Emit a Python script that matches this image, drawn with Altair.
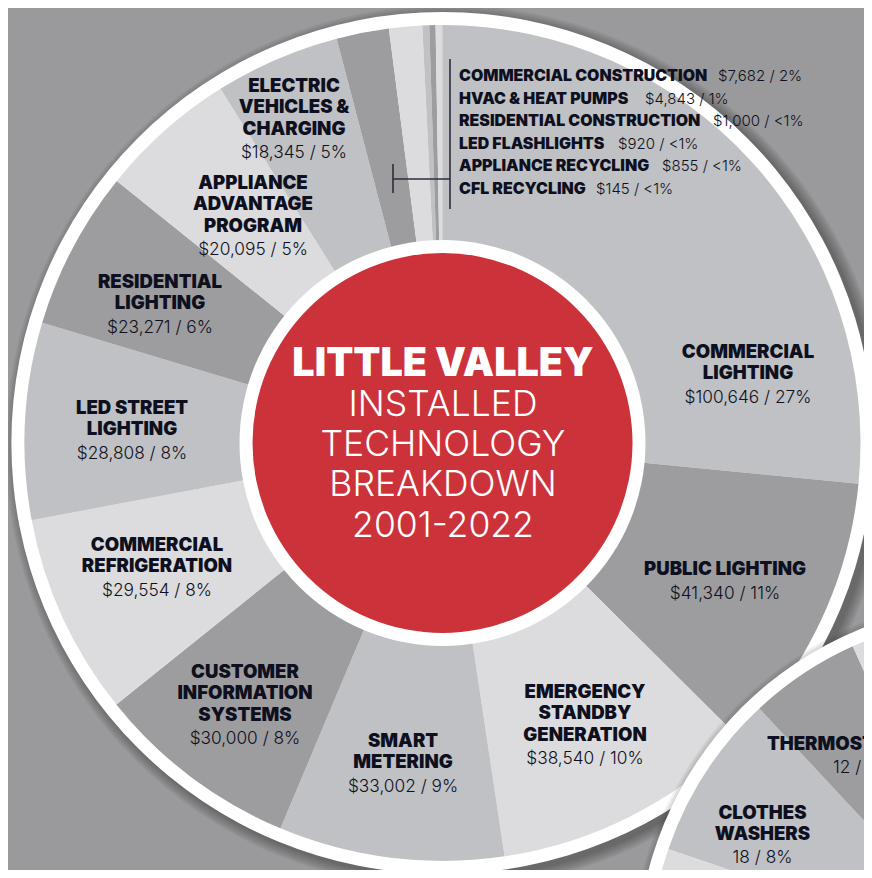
import math
import altair as alt
import pandas as pd

# ---------------- data ----------------
MAIN_NAMES = [
    "COMMERCIAL LIGHTING", "PUBLIC LIGHTING", "EMERGENCY STANDBY GENERATION",
    "SMART METERING", "CUSTOMER INFORMATION SYSTEMS", "COMMERCIAL REFRIGERATION",
    "LED STREET LIGHTING", "RESIDENTIAL LIGHTING", "APPLIANCE ADVANTAGE PROGRAM",
    "ELECTRIC VEHICLES & CHARGING", "COMMERCIAL CONSTRUCTION", "HVAC & HEAT PUMPS",
    "RESIDENTIAL CONSTRUCTION", "LED FLASHLIGHTS", "APPLIANCE RECYCLING", "CFL RECYCLING",
]
MAIN_VALUES = [100646, 41340, 38540, 33002, 30000, 29554, 28808, 23271, 20095,
               18345, 7682, 4843, 1000, 920, 855, 145]

# big labels: name split into lines
MAIN_LABEL_LINES = [
    ["COMMERCIAL", "LIGHTING"], ["PUBLIC LIGHTING"], ["EMERGENCY", "STANDBY", "GENERATION"],
    ["SMART", "METERING"], ["CUSTOMER", "INFORMATION", "SYSTEMS"], ["COMMERCIAL", "REFRIGERATION"],
    ["LED STREET", "LIGHTING"], ["RESIDENTIAL", "LIGHTING"], ["APPLIANCE", "ADVANTAGE", "PROGRAM"],
    ["ELECTRIC", "VEHICLES &", "CHARGING"],
]

SECOND_NAMES = ["CLOTHES WASHERS", "THERMOSTATS", "OTHER"]
SECOND_VALUES = [18, 12, 200]
SECOND_LABEL_LINES = [["CLOTHES", "WASHERS"], ["THERMOSTATS"]]
SECOND_PCTS = [8, 5]

TITLE_BOLD = "LITTLE VALLEY"
TITLE_LIGHT = ["INSTALLED", "TECHNOLOGY", "BREAKDOWN", "2001-2022"]

# ---------------- layout (reference pixel coords) ----------------
M = 8  # page margin
W, H = 872 - 2 * M, 878 - 2 * M
CX, CY = 442.5 - M, 443 - M
R_RING, R_PIE, R_INNER_WHITE, R_RED = 431, 418, 203, 190
C2X, C2Y = 994 - M, 960 - M
R2_RING, R2_PIE = 357, 344
START2 = math.radians(288.8)

# label anchors: (x center, y of first line centre)
MAIN_LABEL_POS = [(748, 352), (725, 569), (585, 692), (403, 741), (245, 672),
                  (157, 545), (132, 408), (160, 282), (253, 183), (294, 86)]
SMALL_X = 459
SMALL_Y = [76, 99, 121, 144, 166, 189]
SMALL_VALUE_X = [718, 645, 713, 618, 662, 596]
SECOND_LABEL_POS = [(762.5, 813, "center", 762.5), (767, 744, "left", 833)]
TITLE_X = 443
TITLE_Y = [364, 405, 445, 485, 526]
BRACKET = [  # x, x2, y, y2
    (450, 450, 59, 209),
    (393, 450, 179, 179),
    (393, 393, 164, 193),
]

LINE_H = 21.3
VALUE_GAP = 24.5

BG = "#9A9A9C"
SHADES = ["#BFC1C5", "#9D9D9F", "#DCDCDE"]
RED = "#CB323A"
INK = "#0E1020"
BOLD_FONT = "Inter"
LIGHT_FONT = "Inter"
LABEL_SIZE, VALUE_SIZE = 18.6, 17.3
SMALL_SIZE, SMALL_VALUE_SIZE = 15.9, 15
TITLE_SIZE, SUBTITLE_SIZE = 39.5, 35.5

total = sum(MAIN_VALUES)


def fmt_pct(v, tot):
    p = v / tot * 100
    return "<1%" if p < 1 else f"{round(p)}%"


# ---------------- frames ----------------
main_df = pd.DataFrame({
    "name": MAIN_NAMES,
    "value": MAIN_VALUES,
    "order": range(len(MAIN_NAMES)),
})
main_df["shade"] = [f"s{i % 3}" for i in range(len(main_df))]

second_df = pd.DataFrame({
    "name": SECOND_NAMES,
    "value": SECOND_VALUES,
    "order": range(len(SECOND_NAMES)),
})
second_df["shade"] = ["s0", "s1", "s2"]

shade_scale = alt.Scale(domain=["s0", "s1", "s2"], range=SHADES)

bold_rows, light_rows = [], []
for k, lines in enumerate(MAIN_LABEL_LINES):
    x, y = MAIN_LABEL_POS[k]
    for i, ln in enumerate(lines):
        bold_rows.append({"t": ln, "x": x - M, "y": y - M + i * LINE_H})
    v = MAIN_VALUES[k]
    light_rows.append({"t": f"${v:,} / {fmt_pct(v, total)}", "x": x - M,
                       "y": y - M + (len(lines) - 1) * LINE_H + VALUE_GAP})

small_bold, small_light = [], []
for j in range(6):
    k = 10 + j
    v = MAIN_VALUES[k]
    small_bold.append({"t": MAIN_NAMES[k], "x": SMALL_X - M, "y": SMALL_Y[j] - M})
    small_light.append({"t": f"${v:,} / {fmt_pct(v, total)}", "x": SMALL_VALUE_X[j] - M,
                        "y": SMALL_Y[j] - M})

sec_bold, sec_light = [], []
for k, lines in enumerate(SECOND_LABEL_LINES):
    x, y, a, vx = SECOND_LABEL_POS[k]
    for i, ln in enumerate(lines):
        sec_bold.append({"t": ln, "x": x - M, "y": y - M + i * LINE_H, "a": a})
    sec_light.append({"t": f"{SECOND_VALUES[k]} / {SECOND_PCTS[k]}%", "x": vx - M,
                      "y": y - M + (len(lines) - 1) * LINE_H + VALUE_GAP - 1, "a": a})

title_rows = [{"t": TITLE_BOLD, "x": TITLE_X - M, "y": TITLE_Y[0] - M}]
title_light = [{"t": t, "x": TITLE_X - M, "y": TITLE_Y[i + 1] - M} for i, t in enumerate(TITLE_LIGHT)]

bracket_df = pd.DataFrame([{"x": a - M, "x2": b - M, "y": c - M, "y2": d - M} for a, b, c, d in BRACKET])

one = pd.DataFrame({"k": [0]})


def circle(cx, cy, r, color, opacity=1.0):
    return alt.Chart(one).mark_arc(theta=0, theta2=2 * math.pi, radius=r, color=color,
                                   opacity=opacity).encode(
        x=alt.value(cx), y=alt.value(cy))


def texts(rows, font, weight, size, align="center", color=INK, clip=False):
    df = pd.DataFrame(rows)
    return alt.Chart(df).mark_text(
        font=font, fontWeight=weight, fontSize=size, color=color, baseline="middle",
        align=align, clip=clip).encode(
        x=alt.X("x:Q", scale=None), y=alt.Y("y:Q", scale=None), text="t:N")


layers = []
# shadow of main pie
for i in range(6):
    layers.append(circle(CX + 5, CY + 4, R_RING + 1 + 2 * i, "#000000", 0.06))
layers.append(circle(CX, CY, R_RING, "#FFFFFF"))
main_pie = alt.Chart(main_df).mark_arc(radius=R_PIE).encode(
    theta=alt.Theta("value:Q", stack=True),
    order=alt.Order("order:Q"),
    color=alt.Color("shade:N", scale=shade_scale, legend=None),
    x=alt.value(CX), y=alt.value(CY),
)
layers.append(main_pie)
layers.append(circle(CX, CY, R_INNER_WHITE, "#FFFFFF"))
layers.append(circle(CX, CY, R_RED, RED))

# bracket for small slices
layers.append(alt.Chart(bracket_df).mark_rule(color="#2B2E3B", strokeWidth=1.6).encode(
    x=alt.X("x:Q", scale=None), x2="x2:Q", y=alt.Y("y:Q", scale=None), y2="y2:Q"))

# main labels
layers.append(texts(bold_rows, BOLD_FONT, 900, LABEL_SIZE))
layers.append(texts(light_rows, LIGHT_FONT, 300, VALUE_SIZE))
layers.append(texts(small_bold, BOLD_FONT, 900, SMALL_SIZE, align="left"))
layers.append(texts(small_light, LIGHT_FONT, 300, SMALL_VALUE_SIZE, align="left"))

# centre title
layers.append(texts(title_rows, BOLD_FONT, 900, TITLE_SIZE, color="#FFFFFF"))
layers.append(texts(title_light, LIGHT_FONT, 300, SUBTITLE_SIZE, color="#FFFFFF"))

# second pie (bottom right)
for i in range(5):
    layers.append(circle(C2X + 3, C2Y + 3, R2_RING + 1 + 2 * i, "#000000", 0.06))
layers.append(circle(C2X, C2Y, R2_RING, "#FFFFFF"))
second_pie = alt.Chart(second_df).mark_arc(radius=R2_PIE).encode(
    theta=alt.Theta("value:Q", stack=True,
                    scale=alt.Scale(range=[START2, START2 + 2 * math.pi])),
    order=alt.Order("order:Q"),
    color=alt.Color("shade:N", scale=shade_scale, legend=None),
    x=alt.value(C2X), y=alt.value(C2Y),
)
layers.append(second_pie)
for a in ["center", "left"]:
    b = [r for r in sec_bold if r["a"] == a]
    l = [r for r in sec_light if r["a"] == a]
    layers.append(texts(b, BOLD_FONT, 900, LABEL_SIZE, align=a, clip=True))
    layers.append(texts(l, LIGHT_FONT, 300, VALUE_SIZE, align=a, clip=True))

chart = alt.layer(*layers).resolve_scale(theta="independent").properties(
    width=W, height=H, padding=0, background=BG,
    autosize=alt.AutoSizeParams(type="none"),
).configure_view(stroke=None)

chart.save("out.html", embed_options={"renderer": "svg", "actions": False})
